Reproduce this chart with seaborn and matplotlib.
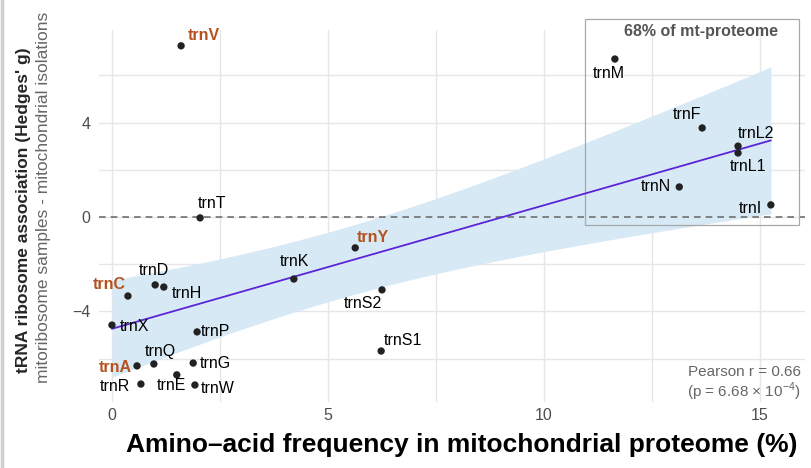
import numpy as np
import pandas as pd
import matplotlib
matplotlib.use("Agg")
import matplotlib.pyplot as plt
import seaborn as sns
from matplotlib.patches import Rectangle
from matplotlib.lines import Line2D

# tRNA data
trna = ["trnV", "trnM", "trnF", "trnL2", "trnL1", "trnN", "trnI", "trnT",
        "trnY", "trnK", "trnS2", "trnS1", "trnC", "trnD", "trnH", "trnX",
        "trnP", "trnQ", "trnA", "trnG", "trnE", "trnR", "trnW"]
aa_freq = [1.60, 11.64, 13.66, 14.49, 14.49, 13.13, 15.25, 2.04,
           5.63, 4.21, 6.25, 6.23, 0.37, 1.00, 1.20, 0.00,
           1.97, 0.97, 0.58, 1.88, 1.50, 0.67, 1.92]
hedges_g = [7.25, 6.69, 3.77, 3.00, 2.71, 1.27, 0.51, -0.04,
            -1.31, -2.63, -3.09, -5.68, -3.35, -2.88, -2.97, -4.58,
            -4.87, -6.23, -6.31, -6.19, -6.69, -7.08, -7.12]
highlight = ["trnV", "trnY", "trnC", "trnA"]

x_ticks = [0, 5, 10, 15]
y_ticks = [-4, 0, 4]

# label offsets in pixels (dx, dy) from each point
label_offsets = {
    "trnV": (23, 10), "trnM": (-6, -14), "trnF": (-15, 13), "trnL2": (18, 13),
    "trnL1": (10, -14), "trnN": (-23, 0), "trnI": (-20, -4), "trnT": (12, 14),
    "trnY": (18, 10), "trnK": (1, 18), "trnS2": (-19, -14), "trnS1": (22, 11),
    "trnC": (-19, 12), "trnD": (-1, 14), "trnH": (23, -6), "trnX": (22, -1),
    "trnP": (18, 0), "trnQ": (6, 12), "trnA": (-22, -2), "trnG": (22, 0),
    "trnE": (-5, -11), "trnR": (-26, -2), "trnW": (23, -3),
}

ORANGE = "#B5521F"
PURPLE = "#5B25D6"
RIBBON = "#D6E9F4"
GRID = "#E6E6E6"
TICK = "#4D4D4D"

sns.set_theme(style="whitegrid")
plt.rcParams['font.family'] = ['Liberation Sans', 'DejaVu Sans']
plt.rcParams['mathtext.fontset'] = 'custom'
plt.rcParams['mathtext.rm'] = 'Liberation Sans'

df = pd.DataFrame({"trna": trna, "freq": aa_freq, "g": hedges_g})

fig = plt.figure(figsize=(8.12, 4.68), dpi=100)
ax = fig.add_axes([99 / 812, 1 - 402 / 468, (805 - 99) / 812, (402 - 30) / 468])

# linear fit with analytic 95% confidence band (like geom_smooth(method="lm"))
x = df["freq"].to_numpy()
y = df["g"].to_numpy()
n = len(x)
slope, intercept = np.polyfit(x, y, 1)
resid = y - (slope * x + intercept)
s = np.sqrt(np.sum(resid ** 2) / (n - 2))
xs = np.linspace(x.min(), x.max(), 200)
se = s * np.sqrt(1 / n + (xs - x.mean()) ** 2 / np.sum((x - x.mean()) ** 2))
t_crit = 2.080
fit = slope * xs + intercept
ax.fill_between(xs, fit - t_crit * se, fit + t_crit * se, color=RIBBON, lw=0, zorder=1)

ax.axhline(0, color="#707070", ls=(0, (4, 3)), lw=1.2, zorder=2)

sns.regplot(data=df, x="freq", y="g", scatter=False, ci=None, ax=ax,
            line_kws={"color": PURPLE, "lw": 1.3, "zorder": 3})
sns.scatterplot(data=df, x="freq", y="g", color="#222222", s=28,
                edgecolor="none", ax=ax, zorder=4)

for name, fx, gy in zip(trna, aa_freq, hedges_g):
    dx, dy = label_offsets[name]
    bold = name in highlight
    ax.annotate(name, (fx, gy), xytext=(dx, dy), textcoords="offset pixels",
                ha="center", va="center", fontsize=11.5,
                color=ORANGE if bold else "black",
                fontweight="bold" if bold else "normal", zorder=5)

# box of the top amino acids
ax.add_patch(Rectangle((10.95, -0.34), 15.9 - 10.95, 8.39 + 0.34, fill=False,
                       edgecolor="#A8A8A8", lw=0.9, clip_on=False, zorder=2))
ax.text(13.63, 7.84, "68% of mt-proteome", ha="center", va="center",
        fontsize=11.5, fontweight="bold", color="#555555")

ax.text(15.95, -6.55, "Pearson r = 0.66", ha="right", va="center",
        fontsize=11, color="#666666")
ax.text(15.95, -7.4, r"(p = 6.68 × 10$^{-4}$)", ha="right", va="center",
        fontsize=11, color="#666666")

ax.set_xlim(-0.3, 16.04)
ax.set_ylim(-7.84, 7.92)
ax.set_xticks(x_ticks)
ax.set_yticks(y_ticks)
ax.set_xticks([2.5, 7.5, 12.5], minor=True)
ax.set_yticks([-6, -2, 2, 6], minor=True)
ax.grid(which="both", color=GRID, lw=1.0)
ax.set_axisbelow(True)
ax.set_facecolor("white")
for sp in ax.spines.values():
    sp.set_visible(False)
ax.tick_params(which="both", length=0, labelsize=11.5, labelcolor=TICK)
ax.tick_params(axis="y", pad=6)
ax.tick_params(axis="x", pad=4)
ax.set_yticklabels(["\u22124", "0", "4"])
ax.set_xlabel("")
ax.set_ylabel("")

fig.text(462 / 812, 1 - 445 / 468, "Amino\u2013acid frequency in mitochondrial proteome (%)",
         ha="center", va="center", fontsize=19, fontweight="bold", color="black")
fig.text(24 / 812, 1 - 210 / 468, "tRNA ribosome association (Hedges' g)",
         rotation=90, ha="center", va="center", fontsize=12.5, fontweight="bold")
fig.text(44 / 812, 1 - 197 / 468, "mitoribosome samples - mitochondrial isolations",
         rotation=90, ha="center", va="center", fontsize=12.5, color="#666666")

fig.add_artist(Line2D([2 / 812, 2 / 812], [0, 1], color="#D0D0D0", lw=2.5))

fig.savefig("out.png", dpi=100)
